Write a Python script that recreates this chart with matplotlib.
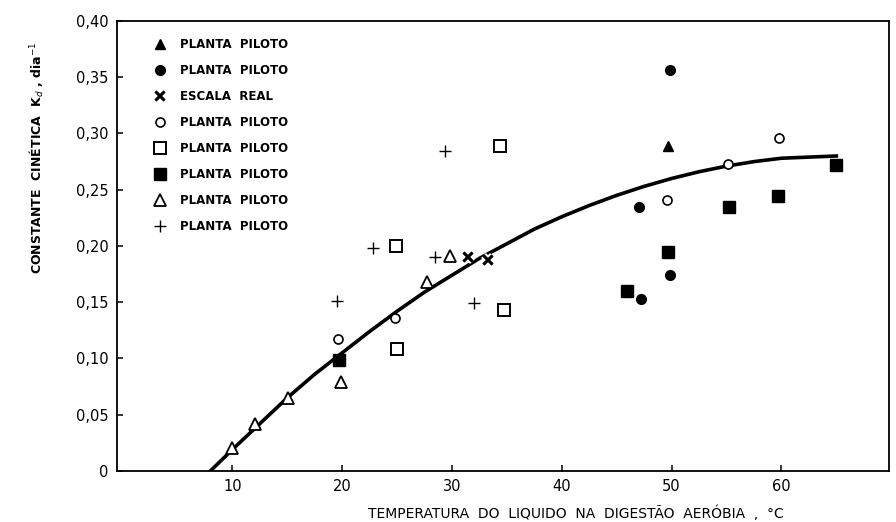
import matplotlib
matplotlib.use("Agg")
import matplotlib.pyplot as plt
import matplotlib.patheffects as pe

# fitted curve
curve_x = [8, 10, 12.5, 15, 17.5, 20, 22.5, 25, 27.5, 30, 32.5, 35, 37.5, 40,
           42.5, 45, 47.5, 50, 52.5, 55, 57.5, 60, 62.5, 65]
curve_y = [0.000, 0.019, 0.042, 0.065, 0.086, 0.105, 0.124, 0.142, 0.159, 0.174,
           0.189, 0.202, 0.215, 0.226, 0.236, 0.245, 0.253, 0.260, 0.266, 0.271,
           0.275, 0.278, 0.279, 0.280]

# data series (temperature in C, Kd in 1/day)
tri_fill_x = [49.7]
tri_fill_y = [0.289]
circ_fill_x = [49.9, 47.0, 49.9, 47.2]
circ_fill_y = [0.356, 0.235, 0.174, 0.153]
escala_x = [31.4, 33.2]
escala_y = [0.191, 0.188]
circ_open_x = [19.6, 24.8, 49.6, 55.1, 59.8]
circ_open_y = [0.117, 0.136, 0.241, 0.273, 0.296]
sq_open_x = [34.4, 24.9, 34.7, 25.0]
sq_open_y = [0.289, 0.200, 0.143, 0.108]
sq_fill_x = [19.7, 45.9, 49.7, 55.2, 59.7, 65.0]
sq_fill_y = [0.099, 0.160, 0.195, 0.235, 0.244, 0.272]
tri_open_x = [10.0, 12.1, 15.1, 19.9, 27.7, 29.8]
tri_open_y = [0.020, 0.042, 0.065, 0.079, 0.168, 0.191]
plus_x = [19.5, 22.8, 28.5, 29.4, 32.0]
plus_y = [0.151, 0.198, 0.190, 0.284, 0.149]

xticks = [10, 20, 30, 40, 50, 60]
yticks = [0, 0.05, 0.10, 0.15, 0.20, 0.25, 0.30, 0.35, 0.40]
ytick_labels = ["0", "0,05", "0,10", "0,15", "0,20", "0,25", "0,30", "0,35", "0,40"]

fig = plt.figure(figsize=(8.96, 5.22), dpi=100)
ax = fig.add_axes([0.1306, 0.0977, 0.8616, 0.8621])

ax.plot(curve_x, curve_y, color="black", lw=2.6, zorder=2)

k = dict(linestyle="none", color="black", zorder=3)
ax.plot(tri_fill_x, tri_fill_y, marker="^", ms=7.5, label="PLANTA  PILOTO", **k)
ax.plot(circ_fill_x, circ_fill_y, marker="o", ms=7, label="PLANTA  PILOTO", **k)
ax.plot(escala_x, escala_y, marker="x", ms=6.5, mew=2, label="ESCALA  REAL",
        path_effects=[pe.withStroke(linewidth=5, foreground="white"), pe.Normal()], **k)
ax.plot(circ_open_x, circ_open_y, marker="o", ms=6.5, mfc="white", mew=1.2,
        label="PLANTA  PILOTO", **k)
ax.plot(sq_open_x, sq_open_y, marker="s", ms=8, mfc="white", mew=1.4,
        label="PLANTA  PILOTO", **k)
ax.plot(sq_fill_x, sq_fill_y, marker="s", ms=8, label="PLANTA  PILOTO", **k)
ax.plot(tri_open_x, tri_open_y, marker="^", ms=8, mfc="white", mew=1.3,
        label="PLANTA  PILOTO", **k)
ax.plot(plus_x, plus_y, marker="+", ms=8, mew=1.0, label="PLANTA  PILOTO", **k)

leg = ax.legend(loc="upper left", bbox_to_anchor=(0.048, 0.962), frameon=False,
                borderpad=0, borderaxespad=0, handlelength=1.0, handletextpad=1.2,
                labelspacing=1.1, prop={"weight": "bold", "size": 8.5})

ax.set_xlim(-0.5, 69.8)
ax.set_ylim(0, 0.40)
ax.set_xticks(xticks)
ax.set_yticks(yticks)
ax.set_yticklabels(ytick_labels)
ax.tick_params(direction="in", length=4, width=1.1, labelsize=10.5, pad=6)
for s in ax.spines.values():
    s.set_linewidth(1.3)

ax.set_ylabel("CONSTANTE  CINÉTICA  K$_d$ , dia$^{-1}$", fontsize=9,
              fontweight="bold", va="center", ha="center")
ax.yaxis.set_label_coords(-0.104, 0.696)
ax.set_xlabel("TEMPERATURA  DO  LIQUIDO  NA  DIGESTÃO  AERÓBIA  ,  °C", fontsize=10,
              va="center", ha="center")
ax.xaxis.set_label_coords(0.595, -0.093)

fig.savefig("out.png", dpi=100)
